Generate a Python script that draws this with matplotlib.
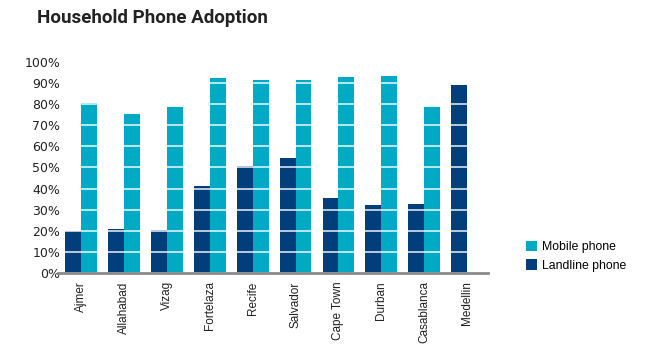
import matplotlib.pyplot as plt
import numpy as np

cities = ['Ajmer', 'Allahabad', 'Vizag', 'Fortelaza', 'Recife', 'Salvador',
          'Cape Town', 'Durban', 'Casablanca', 'Medellin']
landline = [20, 21, 20.5, 41, 50.5, 54.5, 35.5, 32, 32.5, 89]
mobile = [80.5, 75.5, 78.5, 92.5, 91.5, 91.5, 93, 93.5, 78.5, 0]
yticks = list(range(0, 101, 10))

c_land = '#003e7c'
c_mob = '#00aac5'

plt.rcParams['font.family'] = ['Liberation Sans', 'DejaVu Sans']

fig = plt.figure(figsize=(6.46, 3.55), dpi=100)
ax = fig.add_axes([0.0898, 0.231, 0.6657, 0.5944])

x = np.arange(len(cities))
w = 0.37
ax.bar(x - w / 2, landline, w, color=c_land, label='Landline phone', linewidth=0)
ax.bar(x + w / 2, mobile, w, color=c_mob, label='Mobile phone', linewidth=0)

# white lines across the bars at each 10%
ax.set_axisbelow(False)
ax.grid(axis='y', color='white', linewidth=1.2, alpha=0.85)
ax.grid(axis='x', visible=False)

ax.set_ylim(0, 100)
ax.set_xlim(-0.54, 9.49)
ax.set_yticks(yticks)
ax.set_yticklabels(['%d%%' % v for v in yticks], fontsize=9,
                   family='DejaVu Sans', color='#222222')
ax.set_xticks(x)
ax.set_xticklabels(cities, rotation=90, fontsize=8.5, color='#222222', va='top')
ax.tick_params(axis='both', length=0)
ax.tick_params(axis='x', pad=6)
ax.tick_params(axis='y', pad=-1.5)

for s in ['top', 'right', 'left']:
    ax.spines[s].set_visible(False)
ax.spines['bottom'].set_color('#8a8a8a')
ax.spines['bottom'].set_linewidth(2)
ax.spines['bottom'].set_zorder(5)

h, l = ax.get_legend_handles_labels()
fig.legend(h[::-1], l[::-1], loc='upper left', bbox_to_anchor=(0.807, 0.335),
           frameon=False, fontsize=8.8, handlelength=0.9, handleheight=0.9,
           handletextpad=0.4, labelspacing=0.5, borderaxespad=0)

fig.text(0.058, 0.95, 'Household Phone Adoption', fontsize=13.5,
         fontweight='bold', family='Roboto', color='#222222', va='center')

fig.savefig('out.png', dpi=100)
